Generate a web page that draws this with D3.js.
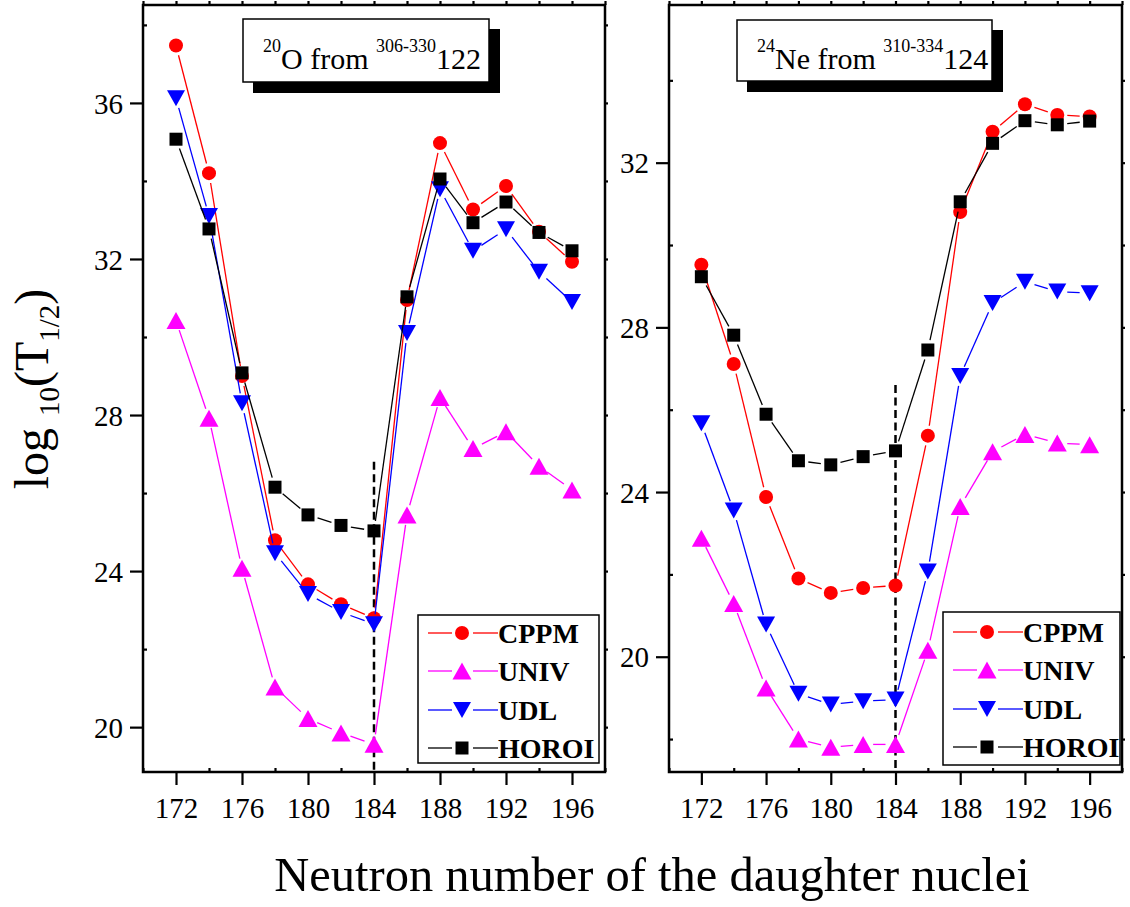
<!DOCTYPE html>
<html><head><meta charset="utf-8">
<script src="https://cdn.jsdelivr.net/npm/d3@7"></script>
<style>
body{margin:0;background:#fff}
svg{display:block}
svg text{font-family:"Liberation Serif","Times New Roman",serif !important;fill:#000}
</style>
</head><body>
<svg id="c" width="1130" height="907"></svg>
<script>
// ---------- data ----------
const neutrons = [172,174,176,178,180,182,184,186,188,190,192,194,196];
const xTicks = [172,176,180,184,188,192,196];
const xMinorTicks = [170,174,178,182,186,190,194,198];
const xMirrorTicks = [170,172,174,176,178,180,182,184,186,188,190,192,194,196,198];
const leftYTicks = [20,24,28,32,36];
const leftYMinor = [22,26,30,34,38];
const rightYTicks = [20,24,28,32];
const rightYMinor = [18,22,26,30,34];
const seriesNames = ["CPPM","UNIV","UDL","HOROI"];
const seriesColors = ["#ff0000","#ff00ff","#0000ff","#000000"];
const seriesShapes = ["circle","up","down","square"];

// 20O from 306-330 122
const oCPPM  = [37.47,34.20,29.00,24.79,23.66,23.15,22.79,30.95,34.97,33.27,33.87,32.70,31.93];
const oUNIV  = [30.42,27.92,24.07,21.03,20.22,19.85,19.56,25.44,28.45,27.14,27.57,26.69,26.08];
const oUDL   = [36.12,33.10,28.30,24.46,23.41,22.95,22.64,30.10,33.79,32.21,32.76,31.67,30.90];
const oHOROI = [35.07,32.77,29.08,26.15,25.44,25.17,25.03,31.03,34.05,32.93,33.46,32.68,32.21];

// 24Ne from 310-334 124
const neCPPM  = [29.52,27.11,23.88,21.90,21.55,21.67,21.73,25.37,30.80,32.75,33.42,33.16,33.12];
const neUNIV  = [22.88,21.29,19.24,18.00,17.80,17.87,17.87,20.16,23.65,24.98,25.40,25.19,25.15];
const neUDL   = [25.67,23.55,20.78,19.10,18.84,18.92,18.96,22.07,26.82,28.59,29.11,28.87,28.83];
const neHOROI = [29.23,27.81,25.89,24.76,24.66,24.86,25.00,27.45,31.05,32.47,33.02,32.92,33.01];

const shellClosure = 184;

// ---------- drawing ----------
const SERIF = "'Liberation Serif','Times New Roman',serif";
const svg = d3.select("#c");

const panels = [
  {x0:143,x1:605,y0:5,y1:772,yDomain:[18.85,38.51],yTicks:leftYTicks,yMinor:leftYMinor,
   series:[oCPPM,oUNIV,oUDL,oHOROI],dashFrom:26.8,
   title:{box:[243,19,489,82],tx:263,parts:[["20",1],["O from ",0],["306-330",1],["122",0]]},
   legend:[418,615,599,763]},
  {x0:669,x1:1122,y0:5,y1:772,yDomain:[17.2,35.83],yTicks:rightYTicks,yMinor:rightYMinor,
   series:[neCPPM,neUNIV,neUDL,neHOROI],dashFrom:26.6,
   title:{box:[737,20,992,81],tx:757,parts:[["24",1],["Ne from ",0],["310-334",1],["124",0]]},
   legend:[943,612,1120,765]}
];

function markerPath(shape){
  if(shape==="circle") return d3.symbol(d3.symbolCircle, Math.PI*7*7)();
  if(shape==="square") return "M-6.5,-6.5H6.5V6.5H-6.5Z";
  if(shape==="up") return "M0,-8.5L9.5,8.5L-9.5,8.5Z";
  return "M-9,-8L9,-8L0,8Z";
}

function gapSegments(pts, gap){
  const segs=[];
  for(let i=0;i<pts.length-1;i++){
    const [ax,ay]=pts[i],[bx,by]=pts[i+1];
    const dx=bx-ax,dy=by-ay,L=Math.hypot(dx,dy);
    if(L<=2*gap+1) continue;
    const ux=dx/L,uy=dy/L;
    segs.push([ax+ux*gap,ay+uy*gap,bx-ux*gap,by-uy*gap]);
  }
  return segs;
}

panels.forEach(p=>{
  const x = d3.scaleLinear().domain([170,198]).range([p.x0,p.x1]);
  const y = d3.scaleLinear().domain(p.yDomain).range([p.y1,p.y0]);
  const g = svg.append("g");

  // title box with shadow
  const [bx0,by0,bx1,by1]=p.title.box;
  g.append("rect").attr("x",bx0+10).attr("y",by0+10).attr("width",bx1-bx0+1).attr("height",by1-by0+1).attr("fill","#000");
  g.append("rect").attr("x",bx0).attr("y",by0).attr("width",bx1-bx0).attr("height",by1-by0)
    .attr("fill","#fff").attr("stroke","#000").attr("stroke-width",1.5);
  const tt = g.append("text").attr("x",p.title.tx).attr("y",69).style("white-space","pre").style("font-family",SERIF);
  let sup=false;
  p.title.parts.forEach(([s,isSup])=>{
    const ts = tt.append("tspan").text(s).attr("font-size",isSup?18:30);
    if(isSup && !sup) ts.attr("dy",-17);
    if(!isSup && sup) ts.attr("dy",17);
    sup = !!isSup;
  });

  // dashed line at shell closure
  g.append("line").attr("x1",x(shellClosure)).attr("x2",x(shellClosure))
    .attr("y1",y(p.dashFrom)).attr("y2",p.y1)
    .attr("stroke","#000").attr("stroke-width",2.5).attr("stroke-dasharray","8,4.5");

  // series
  p.series.forEach((vals,si)=>{
    const pts = neutrons.map((n,i)=>[x(n),y(vals[i])]);
    const sg = g.append("g");
    sg.selectAll("line").data(gapSegments(pts,10)).join("line")
      .attr("x1",d=>d[0]).attr("y1",d=>d[1]).attr("x2",d=>d[2]).attr("y2",d=>d[3])
      .attr("stroke",seriesColors[si]).attr("stroke-width",1.3);
    sg.selectAll("path").data(pts).join("path")
      .attr("d",markerPath(seriesShapes[si]))
      .attr("transform",d=>`translate(${d[0]},${d[1]})`)
      .attr("fill",seriesColors[si]);
  });

  // legend
  const [lx0,ly0,lx1,ly1]=p.legend;
  g.append("rect").attr("x",lx0).attr("y",ly0).attr("width",lx1-lx0).attr("height",ly1-ly0)
    .attr("fill","#fff").attr("stroke","#000").attr("stroke-width",1.5);
  const ys=[18,56,95,133];
  seriesNames.forEach((name,si)=>{
    const ly=ly0+ys[si]+(p===panels[1]?2:0);
    const a=lx0+10, m=lx0+44, b=lx0+80;
    g.append("line").attr("x1",a).attr("x2",m-10).attr("y1",ly).attr("y2",ly).attr("stroke",seriesColors[si]).attr("stroke-width",1.3);
    g.append("line").attr("x1",m+11).attr("x2",b).attr("y1",ly).attr("y2",ly).attr("stroke",seriesColors[si]).attr("stroke-width",1.3);
    g.append("path").attr("d",markerPath(seriesShapes[si])).attr("transform",`translate(${m},${ly})`).attr("fill",seriesColors[si]);
    g.append("text").attr("x",b).attr("y",ly).attr("dy","0.35em").attr("font-size",28).attr("font-weight","bold")
      .style("font-family",SERIF).text(name);
  });

  // axes
  const styleAxis = sel=>{ sel.attr("font-family",null); sel.select(".domain").remove(); sel.selectAll("line").attr("stroke","#000").attr("stroke-width",2.2); };

  const xb = g.append("g").attr("transform",`translate(0,${p.y1})`)
    .call(d3.axisBottom(x).tickValues(xTicks).tickSize(13).tickSizeOuter(0).tickFormat(d3.format("d")));
  styleAxis(xb);
  xb.selectAll("text").attr("y",46).attr("dy",0).attr("font-size",29).style("font-family",SERIF).attr("fill","#000");

  const xbm = g.append("g").attr("transform",`translate(0,${p.y1})`)
    .call(d3.axisBottom(x).tickValues(xMinorTicks).tickSize(-4).tickSizeOuter(0).tickFormat(""));
  styleAxis(xbm);

  const xt = g.append("g").attr("transform",`translate(0,${p.y0})`)
    .call(d3.axisTop(x).tickValues(xMirrorTicks).tickSize(4).tickSizeOuter(0).tickFormat(""));
  styleAxis(xt);

  const yl = g.append("g").attr("transform",`translate(${p.x0},0)`)
    .call(d3.axisLeft(y).tickValues(p.yTicks).tickSize(13).tickSizeOuter(0).tickFormat(d3.format("d")));
  styleAxis(yl);
  yl.selectAll("text").attr("x",-20).attr("dy","0.35em").attr("font-size",29).style("font-family",SERIF).attr("fill","#000");

  const ylm = g.append("g").attr("transform",`translate(${p.x0},0)`)
    .call(d3.axisLeft(y).tickValues(p.yMinor.filter(v=>v>=p.yDomain[0]&&v<=p.yDomain[1])).tickSize(-4).tickSizeOuter(0).tickFormat(""));
  styleAxis(ylm);

  const allY = p.yTicks.concat(p.yMinor).filter(v=>v>=p.yDomain[0]&&v<=p.yDomain[1]);
  const yr = g.append("g").attr("transform",`translate(${p.x1},0)`)
    .call(d3.axisRight(y).tickValues(allY).tickSize(3).tickSizeOuter(0).tickFormat(""));
  styleAxis(yr);

  // frame
  g.append("rect").attr("x",p.x0).attr("y",p.y0).attr("width",p.x1-p.x0).attr("height",p.y1-p.y0)
    .attr("fill","none").attr("stroke","#000").attr("stroke-width",2.5);
});

// axis titles
svg.append("text").attr("x",652).attr("y",891).attr("text-anchor","middle").attr("font-size",48.5)
  .style("font-family",SERIF).text("Neutron number of the daughter nuclei");

const yt = svg.append("text").attr("transform","translate(48,389) rotate(-90)").attr("text-anchor","middle")
  .attr("font-size",48).style("white-space","pre").style("font-family",SERIF);
yt.append("tspan").text("log ");
yt.append("tspan").text("10").attr("font-size",29).attr("dy",11);
yt.append("tspan").text("(T").attr("dy",-11);
yt.append("tspan").text("1/2").attr("font-size",29).attr("dy",11);
yt.append("tspan").text(")").attr("dy",-11);
</script>
</body></html>
